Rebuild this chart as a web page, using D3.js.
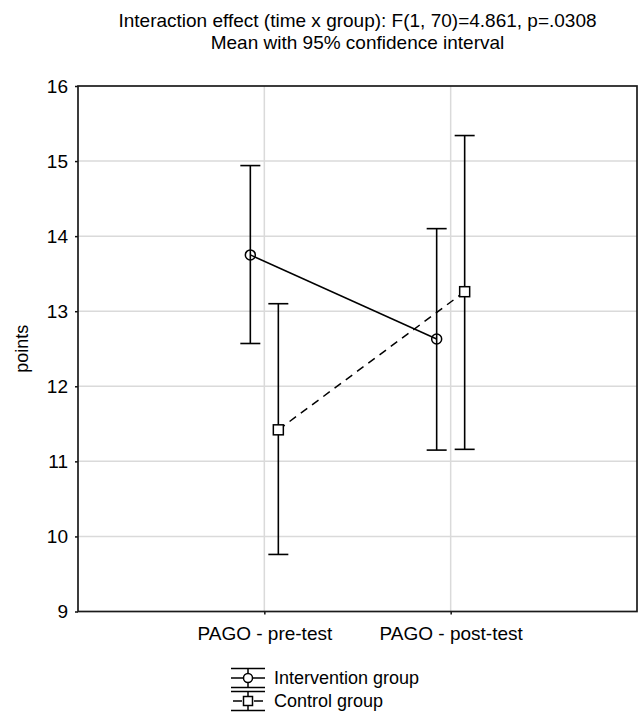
<!DOCTYPE html>
<html>
<head>
<meta charset="utf-8">
<script src="https://cdn.jsdelivr.net/npm/d3@7/dist/d3.min.js"></script>
<style>
  body { margin: 0; background: #fff; }
  text { font-family: "Liberation Sans", Arial, sans-serif; fill: #000; }
</style>
</head>
<body>
<div id="chart"></div>
<script>
// data
var categories = ["PAGO - pre-test", "PAGO - post-test"];
var groups = ["Intervention group", "Control group"];
var interventionMean = [13.75, 12.63];
var interventionLow = [12.57, 11.15];
var interventionHigh = [14.94, 14.10];
var controlMean = [11.42, 13.26];
var controlLow = [9.76, 11.16];
var controlHigh = [13.10, 15.34];
var yTicks = [9, 10, 11, 12, 13, 14, 15, 16];
var titleLines = ["Interaction effect (time x group): F(1, 70)=4.861, p=.0308",
                  "Mean with 95% confidence interval"];

var W = 639, H = 712;
var margin = {top: 86, right: 2, bottom: 100, left: 78};

var svg = d3.select("#chart").append("svg")
  .attr("width", W).attr("height", H);

var x = d3.scalePoint()
  .domain(categories)
  .range([margin.left, W - margin.right])
  .padding(1);

var offset = d3.scalePoint()
  .domain(groups)
  .range([-14, 14]);

var y = d3.scaleLinear()
  .domain([9, 16])
  .range([H - margin.bottom - 0.5, margin.top]);

// grid
svg.append("g")
  .selectAll("line")
  .data(yTicks.slice(1, -1))
  .enter().append("line")
    .attr("x1", margin.left).attr("x2", W - margin.right)
    .attr("y1", function(d) { return y(d); })
    .attr("y2", function(d) { return y(d); })
    .attr("stroke", "#dadada").attr("stroke-width", 1.5);

svg.append("g")
  .selectAll("line")
  .data(categories)
  .enter().append("line")
    .attr("x1", function(d) { return x(d); })
    .attr("x2", function(d) { return x(d); })
    .attr("y1", y(16)).attr("y2", y(9))
    .attr("stroke", "#dadada").attr("stroke-width", 1.5);

// axes
var yAxis = svg.append("g")
  .attr("transform", "translate(" + margin.left + ",0)")
  .call(d3.axisLeft(y).tickValues(yTicks).tickFormat(d3.format("d")).tickSize(3).tickPadding(7));
var xAxis = svg.append("g")
  .attr("transform", "translate(0," + y(9) + ")")
  .call(d3.axisBottom(x).tickSize(3).tickPadding(12).tickSizeOuter(0));

[yAxis, xAxis].forEach(function(a) {
  a.select(".domain").remove();
  a.selectAll("line").attr("stroke", "#111").attr("stroke-width", 1.5);
  a.selectAll("text").attr("font-size", 19)
    .attr("font-family", "Liberation Sans, Arial, sans-serif");
});
xAxis.selectAll("text").attr("dy", "0.71em");

// frame
svg.append("rect")
  .attr("x", margin.left).attr("y", y(16))
  .attr("width", W - margin.right - margin.left)
  .attr("height", y(9) - y(16))
  .attr("fill", "none").attr("stroke", "#1a1a1a").attr("stroke-width", 1.7);

// y label
svg.append("text")
  .attr("transform", "translate(28," + ((y(9) + y(16)) / 2) + ") rotate(-90)")
  .attr("text-anchor", "middle")
  .attr("font-size", 18)
  .text("points");

// title
svg.append("g").selectAll("text")
  .data(titleLines)
  .enter().append("text")
    .attr("x", (margin.left + W - margin.right) / 2)
    .attr("y", function(d, i) { return 27 + i * 22; })
    .attr("text-anchor", "middle")
    .attr("font-size", 19)
    .text(function(d) { return d; });

// series
var series = [
  {name: groups[0], mean: interventionMean, lo: interventionLow, hi: interventionHigh, dash: null, shape: "circle"},
  {name: groups[1], mean: controlMean, lo: controlLow, hi: controlHigh, dash: "8,6", shape: "square"}
];

var capW = 10;

series.forEach(function(s) {
  var pts = categories.map(function(c, i) {
    return {x: x(c) + offset(s.name), m: s.mean[i], lo: s.lo[i], hi: s.hi[i]};
  });
  var g = svg.append("g");

  g.append("path")
    .datum(pts)
    .attr("d", d3.line().x(function(d) { return d.x; }).y(function(d) { return y(d.m); }))
    .attr("fill", "none").attr("stroke", "#000").attr("stroke-width", 1.5)
    .attr("stroke-dasharray", s.dash);

  g.selectAll(".bar").data(pts).enter().append("line")
    .attr("x1", function(d) { return d.x; }).attr("x2", function(d) { return d.x; })
    .attr("y1", function(d) { return y(d.lo); }).attr("y2", function(d) { return y(d.hi); })
    .attr("stroke", "#000").attr("stroke-width", 1.6);

  ["lo", "hi"].forEach(function(k) {
    g.selectAll(".cap" + k).data(pts).enter().append("line")
      .attr("x1", function(d) { return d.x - capW; }).attr("x2", function(d) { return d.x + capW; })
      .attr("y1", function(d) { return y(d[k]); }).attr("y2", function(d) { return y(d[k]); })
      .attr("stroke", "#000").attr("stroke-width", 1.6);
  });

  if (s.shape === "circle") {
    g.selectAll(".pt").data(pts).enter().append("circle")
      .attr("cx", function(d) { return d.x; }).attr("cy", function(d) { return y(d.m); })
      .attr("r", 5).attr("fill", "none").attr("stroke", "#000").attr("stroke-width", 1.5);
  } else {
    g.selectAll(".pt").data(pts).enter().append("rect")
      .attr("x", function(d) { return d.x - 5; }).attr("y", function(d) { return y(d.m) - 5; })
      .attr("width", 10).attr("height", 10)
      .attr("fill", "#fff").attr("stroke", "#000").attr("stroke-width", 1.5);
  }
});

// legend
var legend = svg.append("g").attr("transform", "translate(248,678)");
series.forEach(function(s, i) {
  var row = legend.append("g").attr("transform", "translate(0," + (i * 23) + ")");
  [-9.5, 9.5].forEach(function(dy) {
    row.append("line").attr("x1", -17).attr("x2", 17).attr("y1", dy).attr("y2", dy)
      .attr("stroke", "#000").attr("stroke-width", 1.6);
  });
  row.append("line").attr("x1", 0).attr("x2", 0).attr("y1", -9.5).attr("y2", 9.5)
    .attr("stroke", "#000").attr("stroke-width", 1.5);
  if (s.shape === "circle") {
    row.append("line").attr("x1", -17).attr("x2", 17).attr("y1", 0).attr("y2", 0)
      .attr("stroke", "#000").attr("stroke-width", 1.5);
    row.append("circle").attr("r", 4.5).attr("fill", "#fff")
      .attr("stroke", "#000").attr("stroke-width", 1.5);
  } else {
    row.append("line").attr("x1", -15).attr("x2", 15).attr("y1", 0).attr("y2", 0)
      .attr("stroke", "#000").attr("stroke-width", 1.5).attr("stroke-dasharray", "9,12");
    row.append("rect").attr("x", -4.5).attr("y", -4.5).attr("width", 9).attr("height", 9)
      .attr("fill", "#fff").attr("stroke", "#000").attr("stroke-width", 1.5);
  }
  row.append("text").attr("x", 26).attr("y", 0).attr("dy", "0.35em")
    .attr("font-size", 18).text(s.name);
});
</script>
</body>
</html>
